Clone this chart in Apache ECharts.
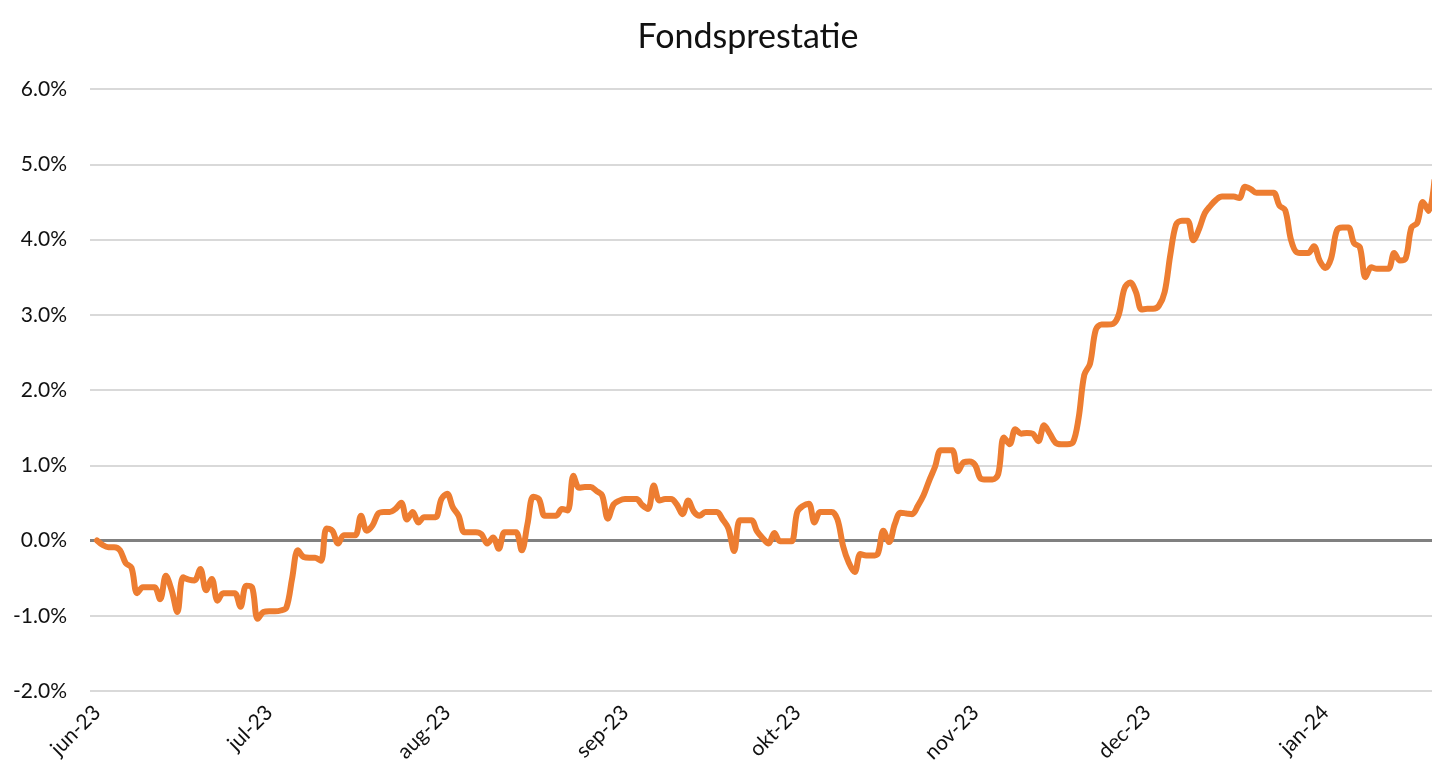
<!DOCTYPE html>
<html>
<head>
<meta charset="utf-8">
<script src="https://cdn.jsdelivr.net/npm/echarts@6/dist/echarts.min.js"></script>
<style>
html,body{margin:0;padding:0;background:#fff;}
#chart{width:1432px;height:767px;}
</style>
</head>
<body>
<div id="chart"></div>
<script>
// Daily fund performance (%), calendar days starting 1 June 2023
const junValues = [0.00,-0.06,-0.09,-0.09,-0.13,-0.30,-0.36,-0.70,-0.62,-0.62,-0.62,-0.78,-0.47,-0.66,-0.95,-0.49,-0.52,-0.53,-0.38,-0.66,-0.51,-0.80,-0.70,-0.70,-0.70,-0.88,-0.60,-0.62,-1.04,-0.95];
const julValues = [-0.94,-0.94,-0.93,-0.89,-0.50,-0.13,-0.22,-0.23,-0.23,-0.27,0.16,0.13,-0.04,0.07,0.07,0.07,0.33,0.13,0.20,0.36,0.38,0.38,0.42,0.50,0.28,0.38,0.24,0.31,0.31,0.31,0.55];
const augValues = [0.62,0.44,0.33,0.11,0.11,0.11,0.08,-0.04,0.04,-0.11,0.11,0.11,0.11,-0.13,0.22,0.58,0.55,0.33,0.33,0.33,0.42,0.40,0.86,0.70,0.71,0.71,0.66,0.60,0.29,0.48,0.53];
const sepValues = [0.55,0.55,0.55,0.47,0.42,0.73,0.53,0.55,0.55,0.48,0.35,0.53,0.38,0.33,0.38,0.38,0.38,0.28,0.16,-0.14,0.27,0.27,0.27,0.12,0.03,-0.04,0.10,-0.01,-0.01,-0.01];
const oktValues = [0.38,0.46,0.49,0.24,0.38,0.38,0.38,0.28,-0.08,-0.30,-0.42,-0.18,-0.20,-0.20,-0.18,0.13,-0.02,0.22,0.37,0.36,0.35,0.46,0.60,0.80,0.98,1.20,1.20,1.20,0.92,1.04,1.05];
const novValues = [1.00,0.82,0.81,0.81,0.88,1.37,1.28,1.48,1.42,1.43,1.42,1.32,1.53,1.42,1.30,1.28,1.28,1.30,1.62,2.20,2.35,2.80,2.87,2.87,2.88,3.00,3.35,3.43,3.30,3.07];
const decValues = [3.08,3.08,3.12,3.30,3.80,4.20,4.25,4.25,3.99,4.14,4.35,4.45,4.53,4.57,4.57,4.57,4.55,4.70,4.67,4.62,4.62,4.62,4.62,4.45,4.39,4.00,3.83,3.82,3.82,3.91,3.72];
const janValues = [3.62,3.75,4.12,4.16,4.16,3.95,3.90,3.50,3.63,3.61,3.61,3.61,3.82,3.72,3.75,4.16,4.22,4.50,4.38,4.78];

const monthNames = ['jan','feb','mrt','apr','mei','jun','jul','aug','sep','okt','nov','dec'];
const monthTicks = ['2023-06-01','2023-07-01','2023-08-01','2023-09-01','2023-10-01','2023-11-01','2023-12-01','2024-01-01'];
const yTicks = [-2,-1,0,1,2,3,4,5,6];
const titleText = 'Fondsprestatie';

const DAY = 86400000;
const startTs = Date.UTC(2023,5,1);
const allValues = [].concat(junValues,julValues,augValues,sepValues,oktValues,novValues,decValues,janValues);
const seriesData = allValues.map((v,i)=>[startTs + i*DAY, v]);
const tickTs = monthTicks.map(s=>{const p=s.split('-');return Date.UTC(+p[0],+p[1]-1,+p[2]);});

const chart = echarts.init(document.getElementById('chart'));
chart.setOption({
  animation: false,
  backgroundColor: '#ffffff',
  title: {
    text: titleText, left: 743, top: 15, textAlign: 'center',
    textStyle: {fontFamily: 'Lato', fontSize: 34, fontWeight: 'normal', color: '#111'}
  },
  grid: {left: 90, right: 0, top: 89, bottom: 76, containLabel: false},
  xAxis: {
    type: 'value',
    min: startTs - 1.22*DAY,
    max: startTs + 232.58*DAY,
    axisLine: {show: false},
    axisTick: {show: false},
    splitLine: {show: false},
    axisLabel: {
      customValues: tickTs,
      rotate: 45,
      margin: 18,
      fontFamily: 'Lato', fontSize: 21, color: '#111',
      formatter: function(v){ const d=new Date(v); return monthNames[d.getUTCMonth()] + '-' + String(d.getUTCFullYear()).slice(2); }
    }
  },
  yAxis: {
    type: 'value', min: yTicks[0], max: yTicks[yTicks.length-1], interval: 1,
    axisLine: {show: false}, axisTick: {show: false},
    splitLine: {show: true, lineStyle: {color: '#d9d9d9', width: 2}},
    axisLabel: {
      margin: 23, fontFamily: 'Lato', fontSize: 21, color: '#111',
      formatter: function(v){ return v.toFixed(1) + '%'; }
    }
  },
  series: [{
    type: 'line',
    data: seriesData,
    showSymbol: false,
    smooth: 0.35,
    clip: true,
    lineStyle: {color: '#ED7D31', width: 6, cap: 'round', join: 'round'},
    itemStyle: {color: '#ED7D31'},
    z: 5,
    markLine: {
      silent: true, symbol: 'none', label: {show: false},
      lineStyle: {color: '#808080', width: 3, type: 'solid'},
      data: [{yAxis: 0}],
      z: 3
    }
  }]
});
</script>
</body>
</html>
